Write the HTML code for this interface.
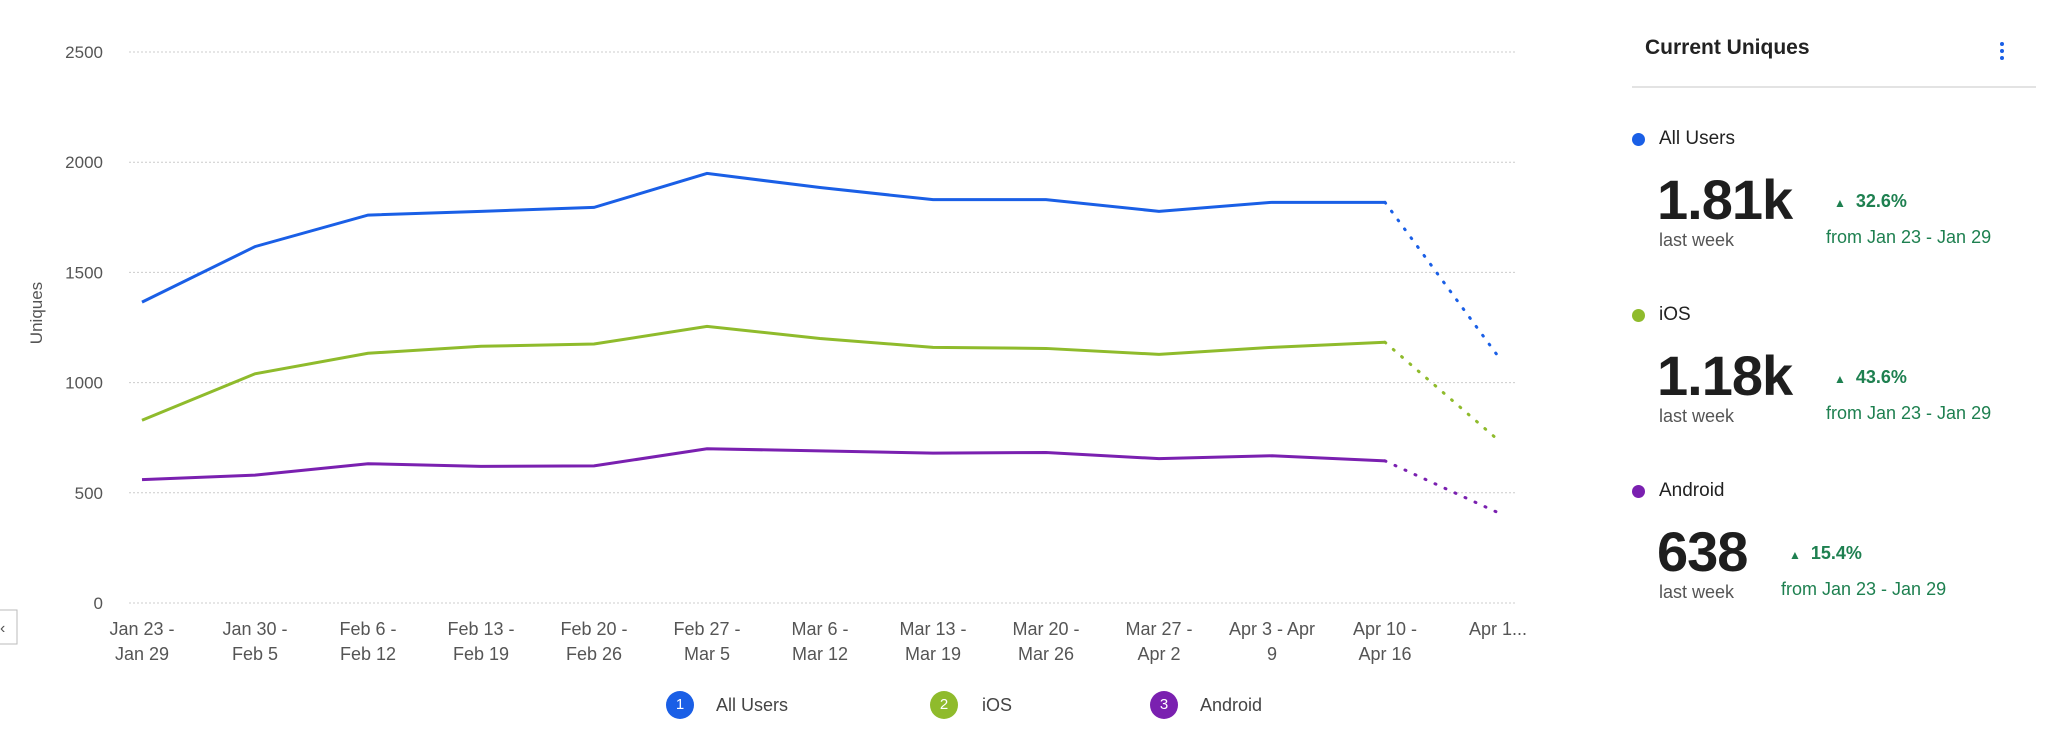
<!DOCTYPE html>
<html><head><meta charset="utf-8"><style>
body{margin:0;width:2048px;height:739px;background:#fff;font-family:"Liberation Sans",sans-serif;overflow:hidden;position:relative}
.a{position:absolute}
</style></head><body>
<svg class="a" style="left:0;top:0" width="1560" height="739">
<g id="grid"></g><g id="series"></g><g id="xl"></g>
<text x="42" y="313" transform="rotate(-90 42 313)" text-anchor="middle" font-size="17" fill="#555">Uniques</text>
<rect x="-2" y="610" width="19" height="34" fill="#fff" stroke="#bbb"/>
<text x="0" y="633" font-size="16" fill="#555">‹</text>
</svg>
<div class="a" style="left:0;top:691px;width:1560px;height:30px;font-size:18px;color:#444">
 <div class="a" style="left:666px;top:0"><span style="position:absolute;left:0;top:0;width:28px;height:28px;border-radius:50%;background:#1a5fe6;color:#fff;font-size:15px;text-align:center;line-height:28px">1</span><span style="position:absolute;left:50px;top:4px;white-space:nowrap">All Users</span></div>
 <div class="a" style="left:930px;top:0"><span style="position:absolute;left:0;top:0;width:28px;height:28px;border-radius:50%;background:#8fbb2c;color:#fff;font-size:15px;text-align:center;line-height:28px">2</span><span style="position:absolute;left:52px;top:4px">iOS</span></div>
 <div class="a" style="left:1150px;top:0"><span style="position:absolute;left:0;top:0;width:28px;height:28px;border-radius:50%;background:#7a20b0;color:#fff;font-size:15px;text-align:center;line-height:28px">3</span><span style="position:absolute;left:50px;top:4px">Android</span></div>
</div>
<div class="a" style="left:1632px;top:0;width:410px;height:739px">
 <div class="a" style="left:13px;top:36px;font-size:21px;font-weight:bold;color:#222">Current Uniques</div>
 <div class="a" style="left:368px;top:42px;width:6px">
  <div style="width:4px;height:4px;border-radius:50%;background:#1a5fe6;margin-bottom:3px"></div><div style="width:4px;height:4px;border-radius:50%;background:#1a5fe6;margin-bottom:3px"></div><div style="width:4px;height:4px;border-radius:50%;background:#1a5fe6"></div></div>
 <div class="a" style="left:0;top:86px;width:404px;height:2px;background:#e3e3e3"></div>
 <div id="stats"></div>
</div>
<script>
const categories=[["Jan 23 -","Jan 29"],["Jan 30 -","Feb 5"],["Feb 6 -","Feb 12"],["Feb 13 -","Feb 19"],["Feb 20 -","Feb 26"],["Feb 27 -","Mar 5"],["Mar 6 -","Mar 12"],["Mar 13 -","Mar 19"],["Mar 20 -","Mar 26"],["Mar 27 -","Apr 2"],["Apr 3 - Apr","9"],["Apr 10 -","Apr 16"],["Apr 1...",""]];
const allUsers=[1365,1617,1760,1777,1795,1949,1885,1830,1830,1777,1818,1818,1120];
const ios=[829,1040,1133,1165,1175,1255,1200,1160,1155,1128,1160,1183,740];
const android=[560,580,632,620,622,700,690,680,683,655,668,645,410];
const yTicks=[0,500,1000,1500,2000,2500];
const NS="http://www.w3.org/2000/svg";
const x=i=>142+i*113.0, y=v=>603-v*(551/2500);
function mk(t,a,p){const e=document.createElementNS(NS,t);for(const k in a)e.setAttribute(k,a[k]);p.appendChild(e);return e;}
const g=document.getElementById('grid');
yTicks.forEach(t=>{const l=mk('line',{x1:129,x2:1516,y1:y(t),y2:y(t),stroke:'#ccc','stroke-dasharray':'2 2'},g);


const tx=mk('text',{x:103,y:y(t)+6,'text-anchor':'end','font-size':17,fill:'#555'},g);tx.textContent=t;

});
const xl=document.getElementById('xl');
categories.forEach((c,i)=>{c.forEach((s,j)=>{if(!s)return;const t=mk('text',{x:x(i),y:635+j*25,'text-anchor':'middle','font-size':18,fill:'#555'},xl);t.textContent=s;

});});
const sg=document.getElementById('series');
[[allUsers,'#1a5fe6','all-users'],[ios,'#8fbb2c','ios'],[android,'#7a20b0','android']].forEach(([d,col,n])=>{
const n1=d.length-1;
const p=mk('polyline',{points:d.slice(0,n1).map((v,i)=>x(i)+','+y(v)).join(' '),fill:'none',stroke:col,'stroke-width':3},sg);


const q=mk('line',{x1:x(n1-1),y1:y(d[n1-1]),x2:x(n1),y2:y(d[n1]),stroke:col,'stroke-width':3,'stroke-dasharray':'1 10','stroke-linecap':'round'},sg);

});
const stats=[["All Users","#1a5fe6","1.81k","32.6%",142,0],["iOS","#8fbb2c","1.18k","43.6%",318,0],["Android","#7a20b0","638","15.4%",494,-45]];
const st=document.getElementById('stats');
stats.forEach(([n,c,v,pct,top,off])=>{const d=document.createElement('div');d.className='a';d.style.cssText='left:0;top:'+(top-12)+'px;width:410px;height:140px';


d.innerHTML=`<div class="a" style="left:0;top:3px;width:13px;height:13px;border-radius:50%;background:${c}"></div>
<div class="a" style="left:27px;top:-2px;font-size:19px;color:#222">${n}</div>
<div class="a" style="left:25px;top:40px;font-size:56px;font-weight:bold;color:#1e1e1e;letter-spacing:-1px;line-height:60px">${v}</div>
<div class="a" style="left:27px;top:100px;font-size:18px;color:#555">last week</div>
<div class="a" style="left:${202+off}px;top:61px;font-size:18px;font-weight:bold;color:#1e8050;white-space:nowrap"><span style="font-size:12px;margin-right:10px">▲</span>${pct}</div>
<div class="a" style="left:${194+off}px;top:97px;font-size:18px;color:#1e8050;white-space:nowrap">from Jan 23 - Jan 29</div>`;
st.appendChild(d);});
</script>
</body></html>
